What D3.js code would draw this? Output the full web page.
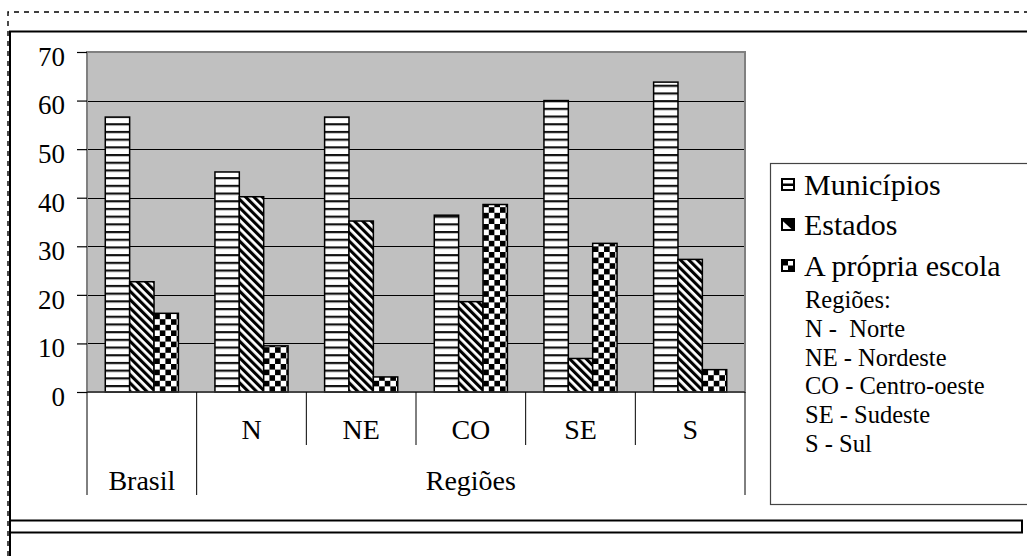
<!DOCTYPE html>
<html>
<head>
<meta charset="utf-8">
<script src="https://cdn.jsdelivr.net/npm/d3@7/dist/d3.min.js"></script>
<style>
  svg text { font-family: 'Liberation Serif', 'Times New Roman', Tinos, monospace !important; }
</style>
</head>
<body style="margin:0">
<svg id="chart" width="1027" height="556"></svg>
<script>
// Categories on the x axis (Brasil + the five regions)
const categories = ["Brasil", "N", "NE", "CO", "SE", "S"];
// Series names
const seriesNames = ["Municípios", "Estados", "A própria escola"];
// Values (%) per series, in category order
const municipios = [56.6, 45.3, 56.6, 36.4, 60.0, 63.8];
const estados = [22.7, 40.2, 35.2, 18.6, 6.9, 27.3];
const propriaEscola = [16.2, 9.5, 3.1, 38.6, 30.6, 4.6];
// Y axis ticks
const yTicks = [0, 10, 20, 30, 40, 50, 60, 70];
// Legend notes about region abbreviations
const regionNotes = ["Regiões:", "N -  Norte", "NE - Nordeste", "CO - Centro-oeste", "SE - Sudeste", "S - Sul"];

const seriesValues = [municipios, estados, propriaEscola];
const fontFor = () => "'Liberation Serif', 'Times New Roman', Tinos, monospace";

const svg = d3.select("#chart");

// ---- patterns used for bar fills ----
const defs = svg.append("defs");

const pH = defs.append("pattern").attr("id", "p0")
  .attr("patternUnits", "userSpaceOnUse").attr("width", 8).attr("height", 7.7);
pH.append("rect").attr("width", 8).attr("height", 7.7).attr("fill", "#fff");
pH.append("rect").attr("y", 0).attr("width", 8).attr("height", 2.2).attr("fill", "#111");

const pD = defs.append("pattern").attr("id", "p1")
  .attr("patternUnits", "userSpaceOnUse").attr("width", 5.9).attr("height", 10)
  .attr("patternTransform", "rotate(-45)");
pD.append("rect").attr("width", 5.9).attr("height", 10).attr("fill", "#fff");
pD.append("rect").attr("width", 3.1).attr("height", 10).attr("fill", "#000");

const cs = 5.6;
const pC = defs.append("pattern").attr("id", "p2")
  .attr("patternUnits", "userSpaceOnUse").attr("width", cs * 2).attr("height", cs * 2);
pC.append("rect").attr("width", cs * 2).attr("height", cs * 2).attr("fill", "#fff");
pC.append("rect").attr("x", 0).attr("y", 0).attr("width", cs).attr("height", cs).attr("fill", "#000");
pC.append("rect").attr("x", cs).attr("y", cs).attr("width", cs).attr("height", cs).attr("fill", "#000");

const fills = ["url(#p0)", "url(#p1)", "url(#p2)"];

// ---- outer frames ----
svg.append("path")
  .attr("d", "M8,556 L8,12 L1027,12")
  .attr("fill", "none").attr("stroke", "#000").attr("stroke-width", 1.4)
  .attr("stroke-dasharray", "5,5");
svg.append("path")
  .attr("d", "M10,556 L10,31.5 L1027,31.5")
  .attr("fill", "none").attr("stroke", "#000").attr("stroke-width", 2);
svg.append("rect")
  .attr("x", 10).attr("y", 520.5).attr("width", 1012).attr("height", 12)
  .attr("fill", "#fff").attr("stroke", "#000").attr("stroke-width", 2);

// ---- plot area ----
const plot = { left: 87, right: 745, top: 52, bottom: 392 };

const x0 = d3.scaleBand().domain(categories).range([plot.left, plot.right])
  .paddingInner(0).paddingOuter(0);
const x1 = d3.scaleBand().domain(d3.range(seriesNames.length)).range([0, x0.bandwidth()])
  .paddingInner(0).paddingOuter(0.75);
const y = d3.scaleLinear().domain([0, 70]).range([plot.bottom, plot.top]);

svg.append("rect")
  .attr("x", plot.left).attr("y", plot.top)
  .attr("width", plot.right - plot.left).attr("height", plot.bottom - plot.top)
  .attr("fill", "#c0c0c0");

// horizontal gridlines
svg.append("g").selectAll("line")
  .data(yTicks.filter(t => t > 0 && t < 70))
  .join("line")
  .attr("x1", plot.left).attr("x2", plot.right)
  .attr("y1", d => Math.round(y(d)) + 0.5).attr("y2", d => Math.round(y(d)) + 0.5)
  .attr("stroke", "#000").attr("stroke-width", 1);

// plot border
svg.append("rect")
  .attr("x", plot.left).attr("y", plot.top)
  .attr("width", plot.right - plot.left).attr("height", plot.bottom - plot.top)
  .attr("fill", "none").attr("stroke", "#808080").attr("stroke-width", 2);

// ---- bars ----
const groups = svg.append("g").selectAll("g")
  .data(categories)
  .join("g")
  .attr("transform", d => `translate(${x0(d)},0)`);

groups.selectAll("rect")
  .data((c, ci) => seriesValues.map((vals, si) => ({ si, v: vals[ci] })))
  .join("rect")
  .attr("x", d => x1(d.si))
  .attr("y", d => y(d.v))
  .attr("width", x1.bandwidth())
  .attr("height", d => y(0) - y(d.v))
  .attr("fill", d => fills[d.si])
  .attr("stroke", "#000").attr("stroke-width", 1.5);

// baseline
svg.append("line")
  .attr("x1", plot.left).attr("x2", plot.right)
  .attr("y1", plot.bottom).attr("y2", plot.bottom)
  .attr("stroke", "#333").attr("stroke-width", 1.5);

// ---- x axis: category separators ----
const boundaries = d3.range(categories.length + 1).map(i =>
  i < categories.length ? x0(categories[i]) : plot.right);
svg.append("g").selectAll("line")
  .data(boundaries)
  .join("line")
  .attr("x1", d => d).attr("x2", d => d)
  .attr("y1", plot.bottom)
  .attr("y2", (d, i) => (i <= 1 || i === boundaries.length - 1) ? 495 : 445)
  .attr("stroke", "#000").attr("stroke-width", 1);

// ---- legend box and keys ----
svg.append("rect")
  .attr("x", 770.5).attr("y", 163.5).attr("width", 270).attr("height", 341)
  .attr("fill", "#fff").attr("stroke", "#444").attr("stroke-width", 1.2);

const legendBase = [195, 235, 276];
const leg = svg.append("g").selectAll("g")
  .data(seriesNames)
  .join("g")
  .attr("transform", (d, i) => `translate(0,${legendBase[i]})`);

leg.append("rect")
  .attr("x", 782).attr("y", -16).attr("width", 12).attr("height", 11)
  .attr("fill", "#fff")
  .attr("stroke", "#000").attr("stroke-width", 2);
leg.filter((d, i) => i === 0).append("rect")
  .attr("x", 782).attr("y", -11.5).attr("width", 12).attr("height", 2.5).attr("fill", "#000");
leg.filter((d, i) => i === 1).append("path")
  .attr("d", "M782,-16 L794,-16 L794,-5 Z").attr("fill", "#000");
leg.filter((d, i) => i === 1).append("path")
  .attr("d", "M782,-16 L794,-5").attr("stroke", "#000").attr("stroke-width", 2);
leg.filter((d, i) => i === 2).append("rect")
  .attr("x", 782).attr("y", -16).attr("width", 6).attr("height", 5.5).attr("fill", "#000");
leg.filter((d, i) => i === 2).append("rect")
  .attr("x", 788).attr("y", -10.5).attr("width", 6).attr("height", 5.5).attr("fill", "#000");

// ---- y axis ----
const yAxis = d3.axisLeft(y).tickValues(yTicks).tickSize(10).tickPadding(12)
  .tickFormat(d3.format("d"));
const yg = svg.append("g").attr("transform", `translate(${plot.left},0)`).call(yAxis);
yg.attr("font-family", null).attr("font-size", null);
yg.select(".domain").remove();
yg.selectAll(".tick line").attr("stroke", "#000").attr("stroke-width", 1.2);
yg.selectAll(".tick text")
  .style("font-family", fontFor)
  .style("font-size", "27px")
  .attr("dy", "0.68em")
  .attr("y", -5);

// ---- all other labels, one text layer ----
const labels = [];
categories.slice(1).forEach(c => labels.push({ t: c, x: x0(c) + x0.bandwidth() / 2, y: 439, s: 28, a: "middle" }));
labels.push({ t: categories[0], x: x0(categories[0]) + x0.bandwidth() / 2, y: 490, s: 28, a: "middle" });
labels.push({ t: "Regiões", x: (x0(categories[1]) + plot.right) / 2, y: 490, s: 28, a: "middle" });
seriesNames.forEach((n, i) => labels.push({ t: n, x: 804, y: legendBase[i], s: 30, a: "start" }));
const noteBase = [308, 337, 366, 394, 423, 452];
regionNotes.forEach((n, i) => labels.push({ t: n, x: 805, y: noteBase[i], s: 24.5, a: "start" }));

d3.select("#chart").selectAll("text.lbl").data(labels).join("text")
  .attr("class", "lbl")
  .attr("x", d => d.x)
  .attr("y", d => d.y)
  .attr("text-anchor", d => d.a)
  .style("font-family", fontFor)
  .style("font-size", d => d.s + "px")
  .style("white-space", "pre")
  .text(d => d.t);
</script>
</body>
</html>
